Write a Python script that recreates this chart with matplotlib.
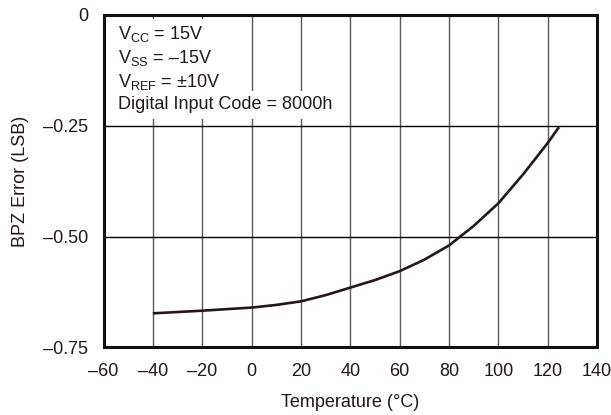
import matplotlib
matplotlib.use("Agg")
import matplotlib.pyplot as plt

plt.rcParams['font.family'] = ['Liberation Sans', 'DejaVu Sans']
plt.rcParams['mathtext.fontset'] = 'custom'
plt.rcParams['mathtext.rm'] = 'Liberation Sans'
plt.rcParams['mathtext.it'] = 'Liberation Sans:italic'

# BPZ error vs temperature
temperature = [-40, -20, 0, 10, 20, 30, 40, 50, 60, 70, 80, 90, 100, 110, 120, 124.6]
bpz_error = [-0.673, -0.667, -0.660, -0.654, -0.646, -0.632, -0.615, -0.598,
             -0.578, -0.552, -0.520, -0.476, -0.425, -0.360, -0.289, -0.253]

x_ticks = [-60, -40, -20, 0, 20, 40, 60, 80, 100, 120, 140]
x_labels = ['\u201360', '\u201340', '\u201320', '0', '20', '40', '60', '80', '100', '120', '140']
y_ticks = [0, -0.25, -0.50, -0.75]
y_labels = ['0', '\u20130.25', '\u20130.50', '\u20130.75']

conditions = [r'V$_{\rm CC}$ = 15V',
              'V$_{\\rm SS}$ = \u201315V',
              r'V$_{\rm REF}$ = $\pm$10V',
              'Digital Input Code = 8000h']

FS = 13
INK = '#231815'

fig = plt.figure(figsize=(6.11, 4.15), dpi=100)
ax = fig.add_axes([0.1694, 0.1627, 0.8076, 0.8012])

ax.set_xlim(-60, 140)
ax.set_ylim(-0.75, 0)

for t in x_ticks[1:-1]:
    ax.axvline(t, color='#5a5a5a', lw=1.0, zorder=1)
for v in y_ticks[1:-1]:
    ax.axhline(v, color='black', lw=1.0, zorder=1)

ax.plot(temperature, bpz_error, color=INK, lw=1.9, zorder=3,
        solid_capstyle='butt', solid_joinstyle='round')

ax.set_xticks(x_ticks)
ax.set_xticklabels(x_labels)
ax.set_yticks(y_ticks)
ax.set_yticklabels(y_labels)
ax.tick_params(length=0, labelsize=FS, colors=INK)
ax.tick_params(axis='x', pad=11)
ax.tick_params(axis='y', pad=11)

for s in ax.spines.values():
    s.set_linewidth(2.2)
    s.set_color('#111111')

ax.set_xlabel('Temperature (\u00b0C)', fontsize=FS, color=INK, labelpad=10)
ax.set_ylabel('BPZ Error (LSB)', fontsize=FS, color=INK, labelpad=10)

line_y = [34, 58, 82, 105]
for txt, yp in zip(conditions, line_y):
    yf = 1 - (yp - 15) / (347.5 - 15)
    ax.text(0.030, yf, txt, transform=ax.transAxes, fontsize=FS,
            color=INK, va='center', ha='left', zorder=4,
            bbox=dict(boxstyle='square,pad=0.3', fc='white', ec='none'))

fig.savefig('out.png', dpi=100)
